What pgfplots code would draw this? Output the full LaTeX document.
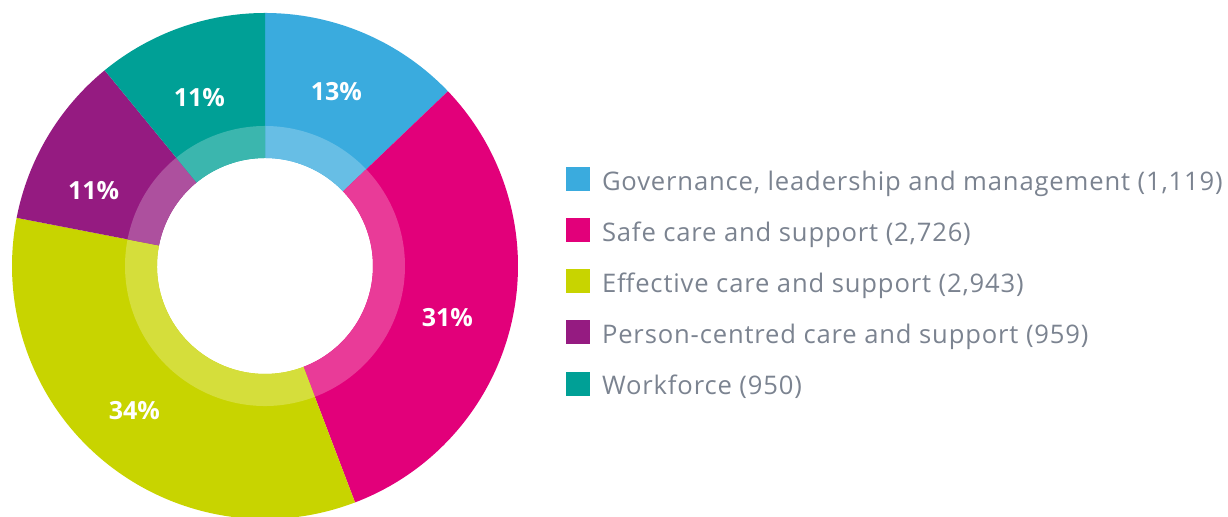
\documentclass[border=0pt]{standalone}
\usepackage{pgfplots}
\pgfplotsset{compat=1.18}
\usepackage{pgfplotstable}
\usepackage{fontspec}
\setmainfont{Open Sans}
\newfontfamily\legfont[LetterSpace=3.3]{Open Sans}

\definecolor{c0}{RGB}{58,171,222}
\definecolor{c1}{RGB}{226,0,122}
\definecolor{c2}{RGB}{200,212,0}
\definecolor{c3}{RGB}{149,27,129}
\definecolor{c4}{RGB}{0,160,150}
\definecolor{legtext}{RGB}{123,131,144}

% value = number of items; dx/dy = nudge of the percentage label (px)
\pgfplotstableread{
value dx dy
1119  -3   1
2726  -2 -10
2943  -9   0
959   -9 -21
950   -2 -10
}\datatable

\def\total{0}
\pgfplotsforeachungrouped \i in {0,...,4}{%
  \pgfplotstablegetelem{\i}{value}\of\datatable
  \pgfmathparse{\total+\pgfplotsretval}\xdef\total{\pgfmathresult}%
}
\def\cum{0}
\pgfplotsforeachungrouped \i in {0,...,4}{%
  \pgfplotstablegetelem{\i}{value}\of\datatable \let\v\pgfplotsretval
  \pgfmathparse{90-360*(\cum/\total)}\expandafter\xdef\csname sa\i\endcsname{\pgfmathresult}%
  \pgfmathparse{\cum+\v}\xdef\cum{\pgfmathresult}%
  \pgfmathparse{90-360*(\cum/\total)}\expandafter\xdef\csname ea\i\endcsname{\pgfmathresult}%
  \pgfmathtruncatemacro\pp{round(100*(\v/\total))}%
  \expandafter\xdef\csname pp\i\endcsname{\pp}%
  \pgfmathsetmacro\m{(\csname sa\i\endcsname+\csname ea\i\endcsname)/2}%
  \pgfplotstablegetelem{\i}{dx}\of\datatable
  \pgfmathparse{189*cos(\m)+\pgfplotsretval}\expandafter\xdef\csname lx\i\endcsname{\pgfmathresult}%
  \pgfplotstablegetelem{\i}{dy}\of\datatable
  \pgfmathparse{189*sin(\m)+\pgfplotsretval}\expandafter\xdef\csname ly\i\endcsname{\pgfmathresult}%
}

\tikzset{pct/.style={font=\fontsize{12.5}{15}\selectfont\bfseries, text=white, inner sep=0pt}}

\begin{document}
\begin{tikzpicture}
\begin{axis}[
  width=614pt, height=258.5pt, scale only axis,
  xmin=-265, xmax=963, ymin=-251, ymax=266,
  hide axis,
  legend image code/.code={\fill[#1] (0pt,-4.93pt) rectangle (12pt,7.07pt);},
  legend style={at={(axis cs:301,99)}, anchor=north west, draw=none, fill=none,
    inner sep=0pt, outer sep=0pt, row sep=12.5pt, column sep=6pt,
    font=\legfont\fontsize{12.8}{15}\selectfont, text=legtext,
    nodes={inner sep=0pt, text height=10.57pt, text depth=1.43pt}},
  legend cell align=left,
]
\addlegendimage{fill=c0, draw=none}\addlegendentry{Governance, leadership and management (1,119)}
\addlegendimage{fill=c1, draw=none}\addlegendentry{Safe care and support (2,726)}
\addlegendimage{fill=c2, draw=none}\addlegendentry{Effective care and support (2,943)}
\addlegendimage{fill=c3, draw=none}\addlegendentry{Person-centred care and support (959)}
\addlegendimage{fill=c4, draw=none}\addlegendentry{Workforce (950)}

\pgfplotsinvokeforeach{0,...,4}{
  \fill[c#1] ([shift={(\csname sa#1\endcsname:126.5pt)}]axis cs:0,0)
    arc[start angle=\csname sa#1\endcsname, end angle=\csname ea#1\endcsname, radius=126.5pt]
    -- ([shift={(\csname ea#1\endcsname:54pt)}]axis cs:0,0)
    arc[start angle=\csname ea#1\endcsname, end angle=\csname sa#1\endcsname, radius=54pt]
    -- cycle;
  \fill[c#1!77!white] ([shift={(\csname sa#1\endcsname:70pt)}]axis cs:0,0)
    arc[start angle=\csname sa#1\endcsname, end angle=\csname ea#1\endcsname, radius=70pt]
    -- ([shift={(\csname ea#1\endcsname:54pt)}]axis cs:0,0)
    arc[start angle=\csname ea#1\endcsname, end angle=\csname sa#1\endcsname, radius=54pt]
    -- cycle;
  \node[pct] at (axis cs:\csname lx#1\endcsname,\csname ly#1\endcsname) {\csname pp#1\endcsname\%};
}
\end{axis}
\pgfresetboundingbox
\path (current axis.south west) rectangle (current axis.north east);
\end{tikzpicture}
\end{document}
